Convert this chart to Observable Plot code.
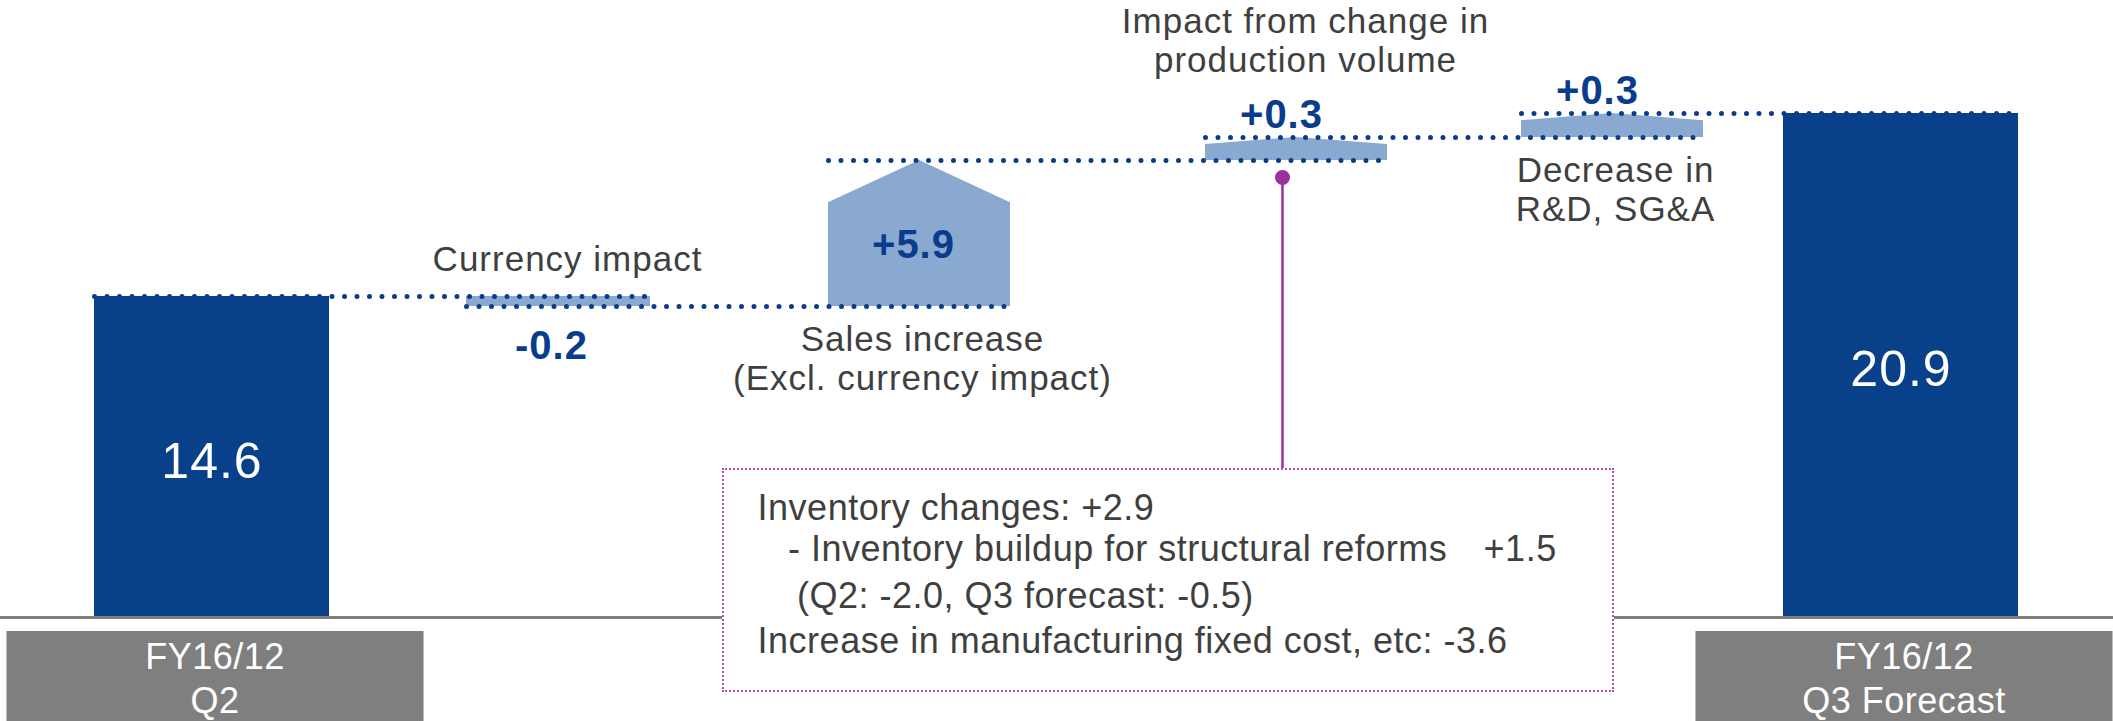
<!DOCTYPE html>
<html>
<head>
<meta charset="utf-8">
<script src="https://cdn.jsdelivr.net/npm/d3@7"></script>
<script src="https://cdn.jsdelivr.net/npm/@observablehq/plot@0.6"></script>
<style>
  html, body { margin: 0; padding: 0; background: #fff; }
  #wrap { position: relative; width: 2113px; height: 721px; overflow: hidden; font-family: "Liberation Sans", Arial, sans-serif; }
  #wrap svg { display: block; }
  #note { position: absolute; left: 722px; top: 468px; width: 892px; height: 224px; box-sizing: border-box;
          border: 2px dotted #b548b5; background: #fff; color: #3f3f3f; font-size: 36px; letter-spacing: 0.5px; }
  #note span { position: absolute; line-height: 36px; white-space: pre; }
</style>
</head>
<body>
<div id="wrap"></div>
<script>
// ---------- data ----------
const categories = ["FY16/12 Q2", "Currency impact", "Sales increase (Excl. currency impact)",
                    "Impact from change in production volume", "Decrease in R&D, SG&A", "FY16/12 Q3 Forecast"];
const kinds = ["total", "delta", "delta", "delta", "delta", "total"];
const values = [14.6, -0.2, 5.9, 0.3, 0.3, 20.9];
const valueLabels = ["14.6", "-0.2", "+5.9", "+0.3", "+0.3", "20.9"];
const categoryLabels = ["FY16/12\nQ2", "Currency impact", "Sales increase\n(Excl. currency impact)",
                        "Impact from change in\nproduction volume", "Decrease in\nR&D, SG&A", "FY16/12\nQ3 Forecast"];
const noteLines = ["Inventory changes: +2.9",
                   "- Inventory buildup for structural reforms", "+1.5",
                   "(Q2: -2.0, Q3 forecast: -0.5)",
                   "Increase in manufacturing fixed cost, etc: -3.6"];

// ---------- label placement (layout, not data) ----------
const valuePlace = ["middle", "below", "middle", "above", "above", "middle"];
const catPlace   = ["axis", "above", "below", "above", "below", "axis"];

// ---------- colours ----------
const DARK = "#08408a", LIGHT = "#8aa9d0", DOTS = "#0a3c8a", VALUE = "#0a3c8c",
      PURPLE = "#9c2f9e", TEXT = "#3f3f3f", GRAY = "#7f7f7f";
const FONT = "Liberation Sans, Arial, sans-serif";

// ---------- waterfall table ----------
let level = 0;
const rows = categories.map((c, i) => {
  let start, end;
  if (kinds[i] === "total") { start = 0; end = values[i]; }
  else { start = level; end = Math.round((level + values[i]) * 10) / 10; }
  level = end;
  return {i, category: c, kind: kinds[i], value: values[i], start, end,
          top: Math.max(start, end), bottom: Math.min(start, end),
          valueLabel: valueLabels[i], catLabel: categoryLabels[i],
          vPlace: valuePlace[i], cPlace: catPlace[i]};
});
const totals = rows.filter(d => d.kind === "total");
const deltas = rows.filter(d => d.kind === "delta");

// ---------- schematic scales (the original chart is not drawn to a linear scale) ----------
const halfW = 0.3;
const xDomain = rows.flatMap(d => [d.i - halfW, d.i + halfW]);
const xRange = [94, 329, 466, 650, 828, 1010, 1205, 1387, 1521, 1703, 1783, 2018];
const levels = Array.from(new Set([0, ...rows.map(d => d.end)])).sort((a, b) => a - b);
const yRange = [616, 306, 296, 160, 137, 113];
const xOpts = {type: "linear", domain: xDomain, range: xRange, axis: null};
const yOpts = {type: "linear", domain: levels, range: yRange, axis: null};
const yS = Plot.scale({y: yOpts});
const pxMid = (a, b) => yS.invert((yS.apply(a) + yS.apply(b)) / 2);

// delta shapes (arrow-topped bars)
const shapePts = deltas.flatMap(d => d.value > 0
  ? [{k: d.i, x: d.i - halfW, y1: d.start, y2: d.start + 0.7 * d.value},
     {k: d.i, x: d.i,         y1: d.start, y2: d.end},
     {k: d.i, x: d.i + halfW, y1: d.start, y2: d.start + 0.7 * d.value}]
  : [{k: d.i, x: d.i - halfW, y1: d.end, y2: d.start},
     {k: d.i, x: d.i + halfW, y1: d.end, y2: d.start}]);

// connectors: level after bar i, from bar i's left edge to bar i+1's right edge
const links = rows.slice(0, -1).map(d => ({x1: d.i - halfW, x2: d.i + 1 + halfW, y: d.end}));

const prod = rows.find(d => d.category.startsWith("Impact from change"));

const marks = [
  Plot.ruleY([0], {stroke: GRAY, strokeWidth: 3, dy: 1}),
  Plot.rect(totals, {x1: d => d.i - halfW, x2: d => d.i + halfW, y1: 0, y2: "end", fill: DARK}),
  Plot.areaY(shapePts, {x: "x", y1: "y1", y2: "y2", z: "k", fill: LIGHT, curve: "linear"}),
  Plot.link(links, {x1: "x1", x2: "x2", y1: "y", y2: "y", stroke: DOTS, strokeWidth: 5,
                    strokeDasharray: "0 12.5", strokeLinecap: "round"}),
  Plot.ruleX([prod], {x: "i", y1: "bottom", y2: 0, dx: -14, insetTop: 17, stroke: PURPLE, strokeWidth: 2.5}),
  Plot.dot([prod], {x: "i", y: "bottom", dx: -14, dy: 17, r: 7.5, fill: PURPLE}),
  // total values (white, inside)
  Plot.text(totals, {x: "i", y: d => pxMid(0, d.end), text: "valueLabel", fill: "white",
                     fontSize: 50, fontFamily: FONT, lineAnchor: "middle", dy: 5}),
  // delta values
  Plot.text(deltas.filter(d => d.vPlace === "middle"), {x: "i", y: d => pxMid(d.start, d.end), text: "valueLabel",
            fill: VALUE, fontSize: 40, fontWeight: "bold", fontFamily: FONT, lineAnchor: "middle", dy: 12, dx: -6}),
  Plot.text(deltas.filter(d => d.vPlace === "above"), {x: "i", y: "top", text: "valueLabel",
            fill: VALUE, fontSize: 40, fontWeight: "bold", fontFamily: FONT, lineAnchor: "bottom", dy: -10, dx: -15}),
  Plot.text(deltas.filter(d => d.vPlace === "below"), {x: "i", y: "bottom", text: "valueLabel",
            fill: VALUE, fontSize: 40, fontWeight: "bold", fontFamily: FONT, lineAnchor: "top", dy: 24, dx: -7})
];
// category labels
for (const d of rows) {
  if (d.cPlace === "above") {
    marks.push(Plot.text([d], {x: "i", y: "top", text: "catLabel", fill: TEXT, fontSize: 35, fontFamily: FONT,
      lineAnchor: "bottom", lineHeight: 39 / 35, dy: -26 - (d.vPlace === "above" ? 40 : 0), dx: 9}));
  } else if (d.cPlace === "below") {
    marks.push(Plot.text([d], {x: "i", y: "bottom", text: "catLabel", fill: TEXT, fontSize: 35, fontFamily: FONT,
      lineAnchor: "top", lineHeight: 1.13, dy: 16, dx: 3}));
  }
}

const main = Plot.plot({
  width: 2113, height: 631, margin: 0,
  x: xOpts, y: yOpts,
  style: {fontFamily: FONT, letterSpacing: "1px", overflow: "visible"},
  marks
});

const axisPlot = Plot.plot({
  width: 2113, height: 90, margin: 0,
  x: xOpts,
  y: {axis: null},
  style: {fontFamily: FONT, letterSpacing: "0.5px"},
  marks: [
    Plot.ruleX(totals, {x: "i", stroke: GRAY, strokeWidth: 417, dx: 3}),
    Plot.text(totals, {x: "i", text: "catLabel", frameAnchor: "middle", lineAnchor: "middle",
                       lineHeight: 44 / 36, fontSize: 36, fontFamily: FONT, fill: "white", dx: 3})
  ]
});

const wrap = document.getElementById("wrap");
wrap.appendChild(main);
wrap.appendChild(axisPlot);

// callout box
const note = document.createElement("div");
note.id = "note";
const notePos = [[33.6, 19.5], [64, 61.2], [759.6, 61.2], [73, 107.5], [33.6, 152.5]];
noteLines.forEach((t, k) => {
  const s = document.createElement("span");
  s.textContent = t;
  s.style.left = notePos[k][0] + "px";
  s.style.top = notePos[k][1] + "px";
  note.appendChild(s);
});
wrap.appendChild(note);
</script>
</body>
</html>
